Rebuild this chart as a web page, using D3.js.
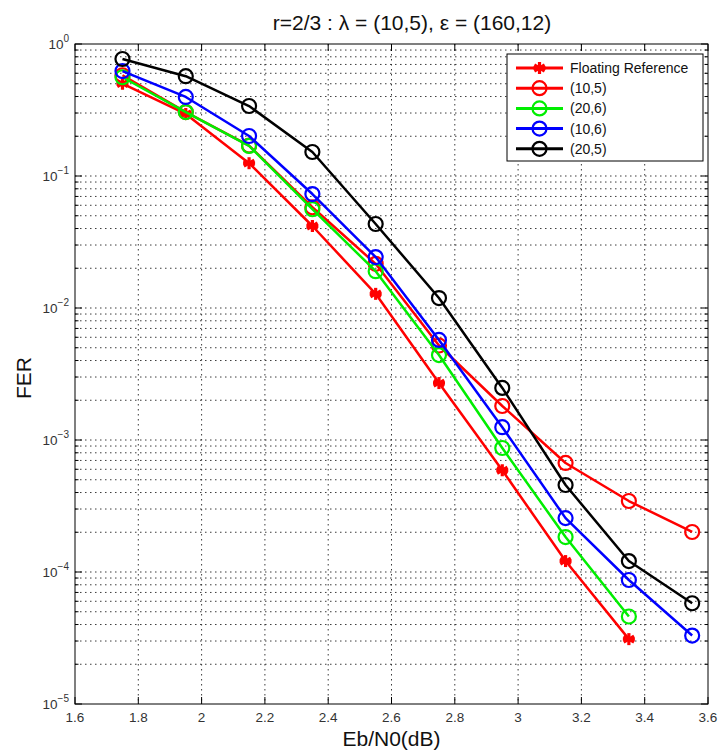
<!DOCTYPE html>
<html>
<head>
<meta charset="utf-8">
<script src="https://cdn.jsdelivr.net/npm/d3@7/dist/d3.min.js"></script>
<style>
  html, body { margin: 0; padding: 0; background: #fff; }
  svg { display: block; font-family: "Liberation Sans", Arial, sans-serif; }
</style>
</head>
<body>
<svg id="chart" width="722" height="751"></svg>
<script>
// ---- data ----
const ebn0 = [1.75, 1.95, 2.15, 2.35, 2.55, 2.75, 2.95, 3.15, 3.35, 3.55];
const floatingRef = [0.50, 0.295, 0.125, 0.0418, 0.0128, 0.0027, 0.00059, 0.000121, 0.000031];
const fer_10_5 = [0.58, 0.305, 0.17, 0.058, 0.0216, 0.0052, 0.00181, 0.00067, 0.000345, 0.000201];
const fer_20_6 = [0.56, 0.305, 0.169, 0.056, 0.019, 0.0044, 0.00087, 0.000184, 0.000046];
const fer_10_6 = [0.624, 0.397, 0.201, 0.073, 0.0243, 0.00573, 0.00125, 0.000256, 0.000087, 0.000033];
const fer_20_5 = [0.77, 0.57, 0.339, 0.152, 0.0433, 0.0119, 0.00248, 0.000456, 0.000121, 0.000058];
const seriesNames = ["Floating Reference", "(10,5)", "(20,6)", "(10,6)", "(20,5)"];
const seriesColors = ["#ff0000", "#ff0000", "#00ee00", "#0000ff", "#000000"];
const seriesMarkers = ["star", "circle", "circle", "circle", "circle"];
const xTicks = [1.6, 1.8, 2, 2.2, 2.4, 2.6, 2.8, 3, 3.2, 3.4, 3.6];
const yDecades = [0, -1, -2, -3, -4, -5];
const titleText = "r=2/3 : \u03bb = (10,5), \u03b5 = (160,12)";
const xLabel = "Eb/N0(dB)";
const yLabel = "FER";

const seriesValues = [floatingRef, fer_10_5, fer_20_6, fer_10_6, fer_20_5];

// ---- layout ----
const L = 75, T = 44, W = 633, H = 660;
const svg = d3.select("#chart");
const x = d3.scaleLinear().domain([1.6, 3.6]).range([L, L + W]);
const y = d3.scaleLog().domain([1e-5, 1]).range([T + H, T]);

// grid
const grid = svg.append("g").attr("stroke", "#000").attr("stroke-width", 0.9)
  .attr("stroke-dasharray", "1.5,3.5").attr("opacity", 0.85);
xTicks.slice(1, -1).forEach(t => {
  grid.append("line").attr("x1", x(t)).attr("x2", x(t)).attr("y1", T).attr("y2", T + H);
});
const yGridVals = [];
for (let e = -5; e < 0; e++) for (let m = 1; m <= 9; m++) yGridVals.push(m * Math.pow(10, e));
yGridVals.filter(v => v > 1e-5 && v < 1).forEach(v => {
  grid.append("line").attr("x1", L).attr("x2", L + W).attr("y1", y(v)).attr("y2", y(v));
});

// ticks (inward) on all sides
const tk = svg.append("g").attr("stroke", "#000").attr("stroke-width", 1);
xTicks.forEach(t => {
  tk.append("line").attr("x1", x(t)).attr("x2", x(t)).attr("y1", T + H).attr("y2", T + H - 7);
  tk.append("line").attr("x1", x(t)).attr("x2", x(t)).attr("y1", T).attr("y2", T + 7);
});
yDecades.forEach(d => {
  const v = Math.pow(10, d);
  tk.append("line").attr("x1", L).attr("x2", L + 7).attr("y1", y(v)).attr("y2", y(v));
  tk.append("line").attr("x1", L + W).attr("x2", L + W - 7).attr("y1", y(v)).attr("y2", y(v));
});
yGridVals.filter(v => v > 1e-5 && v < 1 && Math.abs(Math.log10(v) - Math.round(Math.log10(v))) > 1e-6).forEach(v => {
  tk.append("line").attr("x1", L).attr("x2", L + 3.5).attr("y1", y(v)).attr("y2", y(v));
  tk.append("line").attr("x1", L + W).attr("x2", L + W - 3.5).attr("y1", y(v)).attr("y2", y(v));
});

// box
svg.append("rect").attr("x", L).attr("y", T).attr("width", W).attr("height", H)
  .attr("fill", "none").attr("stroke", "#000").attr("stroke-width", 1);

// tick labels
const xl = svg.append("g").attr("font-size", 13.5).attr("fill", "#333").attr("text-anchor", "middle");
xTicks.forEach(t => {
  xl.append("text").attr("x", x(t)).attr("y", T + H + 18).text(d3.format("~g")(t));
});
const yl = svg.append("g").attr("font-size", 13.5).attr("fill", "#333");
yDecades.forEach(d => {
  const v = Math.pow(10, d);
  const sup = String(d).replace("-", "\u2212");
  const tx = yl.append("text").attr("x", L - 6).attr("y", y(v) + 5).attr("text-anchor", "end");
  tx.append("tspan").text("10");
  tx.append("tspan").attr("dy", -7).attr("font-size", 10).text(sup);
});

// axis titles
svg.append("text").attr("x", L + W / 2).attr("y", 746).attr("text-anchor", "middle")
  .attr("font-size", 21).attr("fill", "#111").text(xLabel);
svg.append("text").attr("transform", `translate(31,${T + H / 2 + 4}) rotate(-90)`)
  .attr("text-anchor", "middle").attr("font-size", 21).attr("fill", "#111").text(yLabel);
svg.append("text").attr("x", 412).attr("y", 30).attr("text-anchor", "middle")
  .attr("font-size", 21).attr("fill", "#111").text(titleText);

// markers
function drawMarker(g, type, cx, cy, color) {
  if (type === "circle") {
    g.append("circle").attr("cx", cx).attr("cy", cy).attr("r", 7)
      .attr("fill", "none").attr("stroke", color).attr("stroke-width", 2.2);
  } else {
    const r = 6;
    [0, 60, 120].forEach(a => {
      const rad = (a + 90) * Math.PI / 180;
      g.append("line").attr("x1", cx - r * Math.cos(rad)).attr("y1", cy - r * Math.sin(rad))
        .attr("x2", cx + r * Math.cos(rad)).attr("y2", cy + r * Math.sin(rad))
        .attr("stroke", color).attr("stroke-width", 3.2);
    });
    g.append("line").attr("x1", cx - r).attr("x2", cx + r).attr("y1", cy).attr("y2", cy)
      .attr("stroke", color).attr("stroke-width", 3.2);
  }
}

const line = d3.line().x(d => x(d[0])).y(d => y(d[1]));
seriesValues.forEach((vals, i) => {
  const pts = vals.map((v, j) => [ebn0[j], v]);
  const g = svg.append("g");
  g.append("path").attr("d", line(pts)).attr("fill", "none")
    .attr("stroke", seriesColors[i]).attr("stroke-width", 2.5).attr("stroke-linejoin", "round");
  pts.forEach(p => drawMarker(g, seriesMarkers[i], x(p[0]), y(p[1]), seriesColors[i]));
});

// legend
const lg = svg.append("g");
lg.append("rect").attr("x", 507).attr("y", 54).attr("width", 196).attr("height", 107)
  .attr("fill", "#fff").attr("stroke", "#000").attr("stroke-width", 1);
seriesNames.forEach((name, i) => {
  const ry = 68 + i * 20.2;
  lg.append("line").attr("x1", 516).attr("x2", 563).attr("y1", ry).attr("y2", ry)
    .attr("stroke", seriesColors[i]).attr("stroke-width", 3);
  drawMarker(lg, seriesMarkers[i], 539.5, ry, seriesColors[i]);
  lg.append("text").attr("x", 570).attr("y", ry + 5).attr("font-size", 14).attr("fill", "#111").text(name);
});
</script>
</body>
</html>
